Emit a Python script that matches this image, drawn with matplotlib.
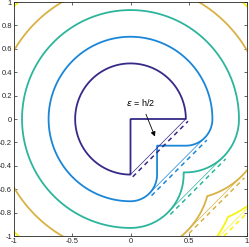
import matplotlib
matplotlib.use('Agg')
import matplotlib.pyplot as plt
import numpy as np

# shape: a disk of radius R with the lower-right quarter cut away
R = 0.475
levels = [0.0, 0.228, 0.456, 0.684, 0.912]
colors = ['#352a87', '#1a86d8', '#2cb59c', '#d8b245', '#f6f312']
eps = 0.027

xticks = [-1, -0.5, 0, 0.5, 1]
xtick_labels = ['-1', '-0.5', '0', '0.5', '1']
yticks = [-1, -0.8, -0.6, -0.4, -0.2, 0, 0.2, 0.4, 0.6, 0.8, 1]
ytick_labels = ['-1', '-0.8', '-0.6', '-0.4', '-0.2', '0', '0.2', '0.4', '0.6', '0.8', '1']

plt.rcParams['font.family'] = ['Liberation Sans', 'DejaVu Sans']

# signed distance to the cut disk
g = np.linspace(-1.05, 1.05, 701)
X, Y = np.meshgrid(g, g)
r = np.hypot(X, Y)
seg_h = np.hypot(X - np.clip(X, 0, R), Y)
seg_v = np.hypot(X, Y - np.clip(Y, -R, 0))
in_cut = (X > 0) & (Y < 0)
arc = np.where(in_cut, np.minimum(np.hypot(X - R, Y), np.hypot(X, Y + R)), np.abs(r - R))
bd = np.minimum(np.minimum(seg_h, seg_v), arc)
inside = (r < R) & ~in_cut
phi = np.where(inside, -bd, bd)

fig = plt.figure(figsize=(2.49, 2.47), dpi=100)
ax = fig.add_axes([14 / 249, 11 / 247, 233 / 249, 234 / 247])

ax.contour(X, Y, phi, levels=levels, colors=colors, linewidths=1.3)

s = 1 / np.sqrt(2)
for d, c in zip(levels, colors):
    xs = np.array([d * s, R + d * s])
    ys = np.array([-R - d * s, -d * s])
    ax.plot(xs, ys, color=c, lw=0.5)
    ax.plot(xs + eps * s, ys - eps * s, color=c, lw=1.1, dashes=(3, 2.5))

ax.annotate(r'$\epsilon$ = h/2', xy=(0.21, -0.15), xytext=(0.09, 0.145),
            ha='center', va='center', fontsize=6.5,
            arrowprops=dict(arrowstyle='-|>', color='k', lw=0.6,
                            mutation_scale=7, shrinkA=3, shrinkB=0))

ax.set_xlim(-1, 1)
ax.set_ylim(-1, 1)
ax.set_xticks(xticks)
ax.set_xticklabels(xtick_labels)
ax.set_yticks(yticks)
ax.set_yticklabels(ytick_labels)
ax.tick_params(direction='in', length=2, width=0.5, labelsize=5.5,
               colors='#262626', pad=1.5, top=True, right=True)
for sp in ax.spines.values():
    sp.set_linewidth(0.6)
    sp.set_color('#262626')

fig.savefig('out.png', dpi=100)
